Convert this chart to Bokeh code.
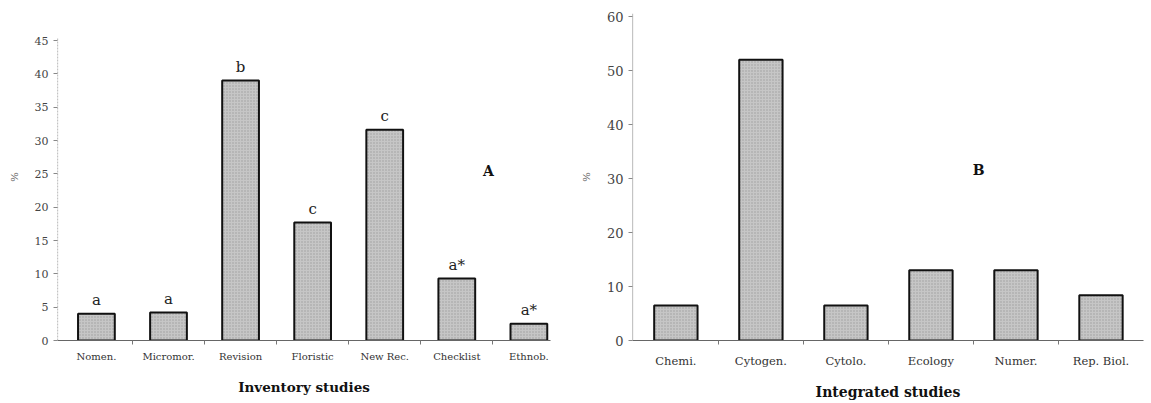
from bokeh.plotting import figure
from bokeh.layouts import row
from bokeh.models import ColumnDataSource, FixedTicker, Range1d, Label
from bokeh.embed import file_html
from bokeh.resources import INLINE

# ---- data ----
inv_categories = ["Nomen.", "Micromor.", "Revision", "Floristic", "New Rec.", "Checklist", "Ethnob."]
inv_values = [4.0, 4.2, 39.0, 17.7, 31.6, 9.3, 2.5]
inv_letters = ["a", "a", "b", "c", "c", "a*", "a*"]
inv_yticks = [0, 5, 10, 15, 20, 25, 30, 35, 40, 45]

int_categories = ["Chemi.", "Cytogen.", "Cytolo.", "Ecology", "Numer.", "Rep. Biol."]
int_values = [6.5, 52.0, 6.5, 13.0, 13.0, 8.4]
int_yticks = [0, 10, 20, 30, 40, 50, 60]

SERIF = "DejaVu Serif"
H = 403


def make_panel(cats, vals, yticks, ymax, axis_top, xlo, xhi, width, bl, br,
               tick_fs, ytick_fs, title, title_fs, label_std, title_std, dashed_axis):
    n = len(cats)
    xs = list(range(1, n + 1))
    p = figure(width=width, height=H, output_backend="svg", toolbar_location=None,
               x_range=Range1d(xlo, xhi), y_range=Range1d(0, ymax),
               min_border_left=bl, min_border_right=br, min_border_top=13, min_border_bottom=63)
    p.outline_line_color = None
    p.grid.visible = False
    p.background_fill_color = "white"
    src = ColumnDataSource(dict(x=xs, top=vals))
    p.vbar(x="x", top="top", bottom=0, width=0.51, source=src,
           fill_color="#c6c6c6", line_color="#111111", line_width=2,
           hatch_pattern="dot", hatch_color="#7a7a7a", hatch_scale=3, hatch_alpha=0.55)

    xa = p.xaxis[0]
    xa.ticker = FixedTicker(ticks=xs, minor_ticks=[x + 0.5 for x in xs[:-1]])
    xa.major_label_overrides = {x: c for x, c in zip(xs, cats)}
    xa.major_tick_line_color = None
    xa.minor_tick_line_color = "#777777"
    xa.minor_tick_out = 4
    xa.minor_tick_in = 0
    xa.axis_line_color = "#666666"
    xa.axis_line_width = 1.2
    xa.major_label_text_font = SERIF
    xa.major_label_text_font_size = tick_fs
    xa.major_label_text_color = "#333333"
    xa.major_label_standoff = label_std
    xa.axis_label = title
    xa.axis_label_text_font = SERIF
    xa.axis_label_text_font_style = "bold"
    xa.axis_label_text_font_size = title_fs
    xa.axis_label_text_color = "#111111"
    xa.axis_label_standoff = title_std

    ya = p.yaxis[0]
    ya.ticker = FixedTicker(ticks=yticks)
    ya.minor_tick_line_color = None
    ya.major_tick_out = 4
    ya.major_tick_in = 0
    ya.major_tick_line_color = "#888888"
    ya.axis_line_color = None
    ya.major_label_text_font = SERIF
    ya.major_label_text_font_size = ytick_fs
    ya.major_label_text_color = "#444444"
    ya.axis_label = "%"
    ya.axis_label_text_font = SERIF
    ya.axis_label_text_font_size = "10px"
    ya.axis_label_text_font_style = "normal"
    ya.axis_label_text_color = "#555555"
    ya.axis_label_standoff = 12
    # y axis line (drawn up to the top tick region, as in the print)
    p.segment(x0=[xlo], y0=[0], x1=[xlo], y1=[axis_top], line_color="#8a8a8a",
              line_width=1.2, line_dash="2 1" if dashed_axis else "solid")
    return p, src


p1, s1 = make_panel(inv_categories, inv_values, inv_yticks, 49.05, 45.4, 0.46, 7.3,
                    576, 57, 26, "10px", "11px", "Inventory studies", "13.5px", 4, 14, True)
s1.data["lab"] = inv_letters
p1.text(x="x", y="top", text="lab", source=s1, text_align="center", text_baseline="bottom",
        y_offset=-5, text_font={"value": SERIF}, text_font_size="15px", text_color="#222222")
p1.add_layout(Label(x=6.44, y=25.5, text="A", text_font=SERIF, text_font_style="bold",
                    text_font_size="14px", text_align="center", text_baseline="middle",
                    text_color="#111111"))

p2, s2 = make_panel(int_categories, int_values, int_yticks, 60.56, 60.56, 0.49, 6.5,
                    571, 56, 4, "11.5px", "13px", "Integrated studies", "14px", 7, 13, False)
p2.add_layout(Label(x=4.56, y=31.5, text="B", text_font=SERIF, text_font_style="bold",
                    text_font_size="14px", text_align="center", text_baseline="middle",
                    text_color="#111111"))

layout = row(p1, p2, spacing=0)
open("out.html", "w").write(file_html(layout, INLINE))
